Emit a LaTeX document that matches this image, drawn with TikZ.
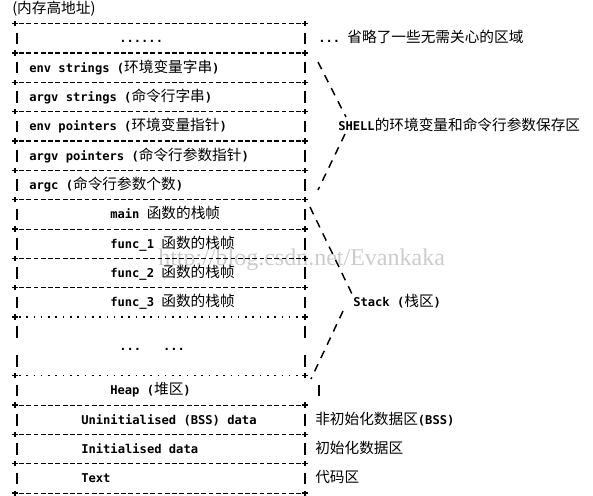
\documentclass[tikz,border=0pt]{standalone}
\usepackage{fontspec}
\setmonofont{DejaVu Sans Mono}
\newfontfamily\zhfont{Noto Sans CJK SC}
\newfontfamily\wmfont{Liberation Serif}
\newcommand\zh[1]{{\fontsize{11}{13}\selectfont\zhfont\mdseries #1}}
\tikzset{
  sepline/.style={line width=0.8pt, dash pattern=on 3.6pt off 1.87pt},
  dotline/.style={line width=0.9pt, dash pattern=on 1.2pt off 4.27pt},
  pipe/.style={line width=1.35pt},
  brace/.style={line width=1.1pt, dash pattern=on 6pt off 5pt},
  txt/.style={anchor=base west, inner sep=0pt, font=\ttfamily\bfseries\fontsize{9.1}{11}\selectfont},
  wm/.style={anchor=base west, inner sep=0pt, text=black!20, font=\wmfont\fontsize{18}{20}\selectfont},
}
\begin{document}
\begin{tikzpicture}[x=0.75pt,y=-0.75pt,declare function={ly(\n)=9+14.67*\n;}]
\useasboundingbox (0,0) rectangle (593,496);
\node[wm] (mark) at (158,265) {http://blog.csdn.net/Evankaka};
\foreach \n in {1,3,5,7,9,11,13,15,17,19,27,29,31,33}
  \draw[sepline] (19,{ly(\n)}) -- (302,{ly(\n)});
\foreach \n in {21,25}
  \draw[dotline] (19,{ly(\n)}) -- (302,{ly(\n)});
\foreach \n in {1,3,5,7,9,11,13,15,17,19,21,25,27,29,31,33}
  \foreach \x in {15,305}
    \draw[line width=1pt] (\x-2.6,{ly(\n)}) -- (\x+2.6,{ly(\n)}) (\x,{ly(\n)-2.6}) -- (\x,{ly(\n)+2.6});
\foreach \n in {2,4,...,32}
  \draw[pipe] (17,{ly(\n)-5.8}) -- (17,{ly(\n)+5.8});
\foreach \n in {2,4,...,24,28,30,32}
  \draw[pipe] (305,{ly(\n)-5.8}) -- (305,{ly(\n)+5.8});
\draw[pipe] (319,{ly(26)-5.8}) -- (319,{ly(26)+5.8});
\node[txt] (top) at (12,{ly(0)+4.5}) {\zh{(内存高地址)}};
\node[txt] (skip) at (119,{ly(2)+4.5}) {......};
\node[txt] (envs) at (29,{ly(4)+4.5}) {env strings (\zh{环境变量字串})};
\node[txt] (argvs) at (29,{ly(6)+4.5}) {argv strings (\zh{命令行字串})};
\node[txt] (envp) at (29,{ly(8)+4.5}) {env pointers (\zh{环境变量指针})};
\node[txt] (argvp) at (29,{ly(10)+4.5}) {argv pointers (\zh{命令行参数指针})};
\node[txt] (argc) at (29,{ly(12)+4.5}) {argc (\zh{命令行参数个数})};
\node[txt] (main) at (110,{ly(14)+4.5}) {main \zh{函数的栈帧}};
\node[txt] (fone) at (110,{ly(16)+4.5}) {func\_1 \zh{函数的栈帧}};
\node[txt] (ftwo) at (110,{ly(18)+4.5}) {func\_2 \zh{函数的栈帧}};
\node[txt] (fthree) at (110,{ly(20)+4.5}) {func\_3 \zh{函数的栈帧}};
\node[txt] (more) at (119,{ly(23)+4.5}) {...\ \ \ ...};
\node[txt] (heap) at (110,{ly(26)+4.5}) {Heap (\zh{堆区})};
\node[txt] (bss) at (81,{ly(28)+4.5}) {Uninitialised (BSS) data};
\node[txt] (data) at (81,{ly(30)+4.5}) {Initialised data};
\node[txt] (text) at (81,{ly(32)+4.5}) {Text};
\node[txt] (skipnote) at (318,{ly(2)+4.5}) {...\ \zh{省略了一些无需关心的区域}};
\node[txt] (shell) at (338,{ly(8)+4.5}) {SHELL\zh{的环境变量和命令行参数保存区}};
\node[txt] (stack) at (353,{ly(20)+4.5}) {Stack (\zh{栈区})};
\node[txt] (bssnote) at (315,{ly(28)+4.5}) {\zh{非初始化数据区}(BSS)};
\node[txt] (datanote) at (315,{ly(30)+4.5}) {\zh{初始化数据区}};
\node[txt] (textnote) at (315,{ly(32)+4.5}) {\zh{代码区}};
\draw[brace] (318,62) -- (346,117);
\draw[brace] (345,134) -- (318,190);
\draw[brace] (310,207) -- (352,294);
\draw[brace] (343,311) -- (311,379);
\end{tikzpicture}
\end{document}
